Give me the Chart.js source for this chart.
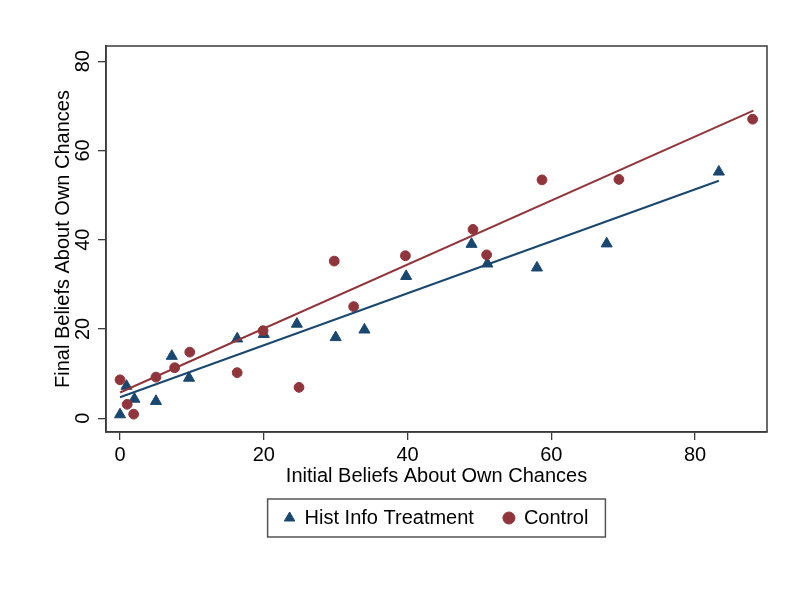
<!DOCTYPE html>
<html>
<head>
<meta charset="utf-8">
<script src="https://cdn.jsdelivr.net/npm/chart.js@4.4.0/dist/chart.umd.min.js"></script>
<style>
    body { margin: 0; background: #fff; }
    #wrap { width: 812px; height: 590px; }
</style>
</head>
<body>
<div id="wrap"><canvas id="chart" width="812" height="590"></canvas></div>
<script>
// values
const histX = [0, 0.9, 2.0, 5.0, 7.2, 9.6, 16.3, 20.0, 24.6, 30.0, 34.0, 39.8, 48.9, 51.1, 58.0, 67.7, 83.3];
const histY = [0.8, 7.2, 4.3, 3.8, 13.9, 9.0, 17.8, 18.8, 21.1, 18.1, 19.8, 31.8, 39.0, 34.6, 33.7, 39.1, 55.2];
const ctrlX = [0, 1.0, 1.9, 5.0, 7.6, 9.7, 16.3, 19.9, 24.9, 29.8, 32.5, 39.7, 49.1, 51.0, 58.7, 69.4, 88.0];
const ctrlY = [8.6, 3.1, 0.9, 9.2, 11.3, 14.8, 10.2, 19.6, 6.9, 35.2, 25.0, 36.4, 42.3, 36.6, 53.4, 53.5, 67.0];

// fitted lines (endpoints)
const histFitX = [0, 83.3];
const histFitY = [4.7, 53.2];
const ctrlFitX = [0, 88.1];
const ctrlFitY = [5.75, 68.9];

const xTicks = [0, 20, 40, 60, 80];
const yTicks = [0, 20, 40, 60, 80];

const navy = '#1a476f';
const maroon = '#90353b';
const ink = '#3a3a3a';

const toPoints = (xs, ys) => xs.map((x, i) => ({ x: x, y: ys[i] }));
const font = { family: "'Liberation Sans', Arial, sans-serif", size: 20 };

// box round the plot region and the legend, like Stata draws it
const framePlugin = {
    id: 'frame',
    afterDraw(chart) {
        const ctx = chart.ctx;
        const a = chart.chartArea;
        ctx.save();
        ctx.strokeStyle = ink;
        ctx.lineWidth = 1.5;
        ctx.strokeRect(a.left, a.top, a.right - a.left, a.bottom - a.top);

        const boxes = chart.legend.legendHitBoxes;
        if (boxes && boxes.length) {
            const left = Math.min(...boxes.map(b => b.left)) - 17;
            const right = Math.max(...boxes.map(b => b.left + b.width)) + 17;
            const top = Math.min(...boxes.map(b => b.top)) - 9;
            const bottom = Math.max(...boxes.map(b => b.top + b.height)) + 9;
            ctx.strokeStyle = '#555';
            ctx.strokeRect(left, top, right - left, bottom - top);
        }
        ctx.restore();
    }
};

const ctx = document.getElementById('chart').getContext('2d');
new Chart(ctx, {
    type: 'scatter',
    data: {
        datasets: [
            {
                label: 'Hist Info Treatment',
                data: toPoints(histX, histY),
                pointStyle: 'triangle',
                pointRadius: 6.4,
                backgroundColor: navy,
                borderColor: navy,
                borderWidth: 1,
                order: 2
            },
            {
                label: 'Control',
                data: toPoints(ctrlX, ctrlY),
                pointStyle: 'circle',
                pointRadius: 4.9,
                backgroundColor: maroon,
                borderColor: maroon,
                borderWidth: 1,
                order: 1
            },
            {
                label: 'fit hist',
                data: toPoints(histFitX, histFitY),
                showLine: true,
                pointRadius: 0,
                borderColor: navy,
                borderWidth: 2,
                order: 0
            },
            {
                label: 'fit control',
                data: toPoints(ctrlFitX, ctrlFitY),
                showLine: true,
                pointRadius: 0,
                borderColor: maroon,
                borderWidth: 2,
                order: 0
            }
        ]
    },
    options: {
        responsive: false,
        animation: false,
        events: [],
        layout: { padding: { left: 0, right: 45, top: 46, bottom: 52 } },
        scales: {
            x: {
                type: 'linear',
                min: -1.95,
                max: 90,
                afterBuildTicks: scale => { scale.ticks = xTicks.map(v => ({ value: v })); },
                afterFit: scale => { scale.height = 46; },
                grid: { drawOnChartArea: false, drawTicks: true, tickLength: 8, color: ink, lineWidth: 1.3 },
                border: { display: true, color: ink, width: 1.5 },
                ticks: { font: font, color: '#000', padding: 3, maxRotation: 0 },
                title: {
                    display: true,
                    text: 'Initial Beliefs About Own Chances',
                    font: font,
                    color: '#000',
                    padding: { top: 0, bottom: -10 }
                }
            },
            y: {
                type: 'linear',
                min: -3.1,
                max: 83.4,
                afterBuildTicks: scale => { scale.ticks = yTicks.map(v => ({ value: v })); },
                afterFit: scale => { scale.width = 106; },
                grid: { drawOnChartArea: false, drawTicks: true, tickLength: 8, color: ink, lineWidth: 1.3 },
                border: { display: true, color: ink, width: 1.5 },
                ticks: { font: font, color: '#000', padding: 3, minRotation: 90, maxRotation: 90, crossAlign: 'center' },
                title: {
                    display: true,
                    text: 'Final Beliefs About Own Chances',
                    font: font,
                    color: '#000',
                    padding: { top: 51, bottom: 0 }
                }
            }
        },
        plugins: {
            legend: {
                position: 'bottom',
                fullSize: false,
                labels: {
                    usePointStyle: true,
                    boxWidth: 10,
                    boxHeight: 8.5,
                    padding: 30,
                    font: font,
                    color: '#000',
                    filter: item => item.datasetIndex < 2,
                    sort: (a, b) => a.datasetIndex - b.datasetIndex
                }
            },
            tooltip: { enabled: false }
        }
    },
    plugins: [framePlugin]
});
</script>
</body>
</html>
